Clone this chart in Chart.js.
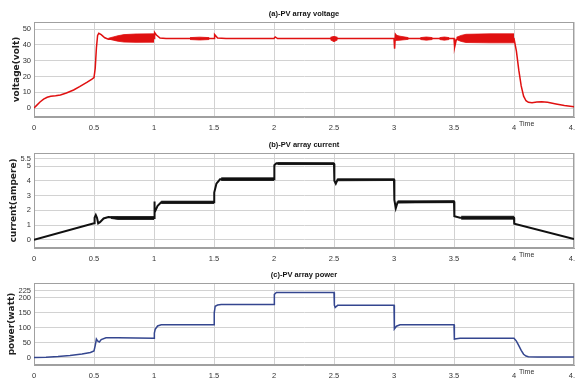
<!DOCTYPE html>
<html>
<head>
<meta charset="utf-8">
<script src="https://cdn.jsdelivr.net/npm/chart.js@4"></script>
<style>
  body { margin: 0; background: #fff; width: 575px; height: 388px; overflow: hidden; position: relative; }
  canvas { position: absolute; left: 0; }
</style>
</head>
<body>
<canvas id="voltChart" width="575" height="135" style="top:0px"></canvas>
<canvas id="currChart" width="575" height="135" style="top:131px"></canvas>
<canvas id="powChart" width="575" height="122" style="top:261px"></canvas>
<script>
// axis ticks
const timeTicks = [0, 0.5, 1, 1.5, 2, 2.5, 3, 3.5, 4, 4.5];
const voltTicks = [0, 10, 20, 30, 40, 50];
const currTicks = [0, 1, 2, 3, 4, 5, 5.5];
const powTicks = [0, 50, 100, 150, 200, 225];

// (a) PV array voltage
const voltT = [0, 0.02, 0.05, 0.08, 0.11, 0.14, 0.18, 0.22, 0.27, 0.33, 0.38, 0.44, 0.48, 0.5, 0.51, 0.52, 0.53, 0.54, 0.56, 0.59, 0.62, 0.65,
  1.0, 1.005, 1.02, 1.05, 1.1, 1.5, 1.505, 1.53, 1.6, 2.0, 2.01, 2.03, 2.5, 3.0, 3.005, 3.012, 3.03, 3.1, 3.5, 3.505, 3.52, 3.55,
  4.0, 4.02, 4.04, 4.06, 4.08, 4.1, 4.12, 4.15, 4.19, 4.23, 4.28, 4.35, 4.42, 4.5];
const voltV = [0, 1.5, 3.8, 5.6, 6.8, 7.4, 7.8, 8.3, 9.5, 11.4, 13.5, 16.2, 18.2, 19.3, 25, 38, 46, 47.3, 46.5, 44.5, 43.6, 43.9,
  44, 47.8, 46.3, 44.3, 44, 44, 46.6, 44.3, 44, 44, 45, 44, 44, 44, 37.5, 46.7, 44.8, 44, 44, 38.5, 43.5, 44,
  44, 36, 24, 14, 7.5, 4.6, 3.6, 3.4, 3.8, 4, 3.6, 2.6, 1.6, 0.8];
const voltBandT = [0.62, 0.66, 0.7, 0.75, 0.85, 1.0, 1.1,
  1.3, 1.38, 1.46, 1.48,
  2.47, 2.5, 2.53, 2.6,
  3.01, 3.05, 3.12, 3.15,
  3.22, 3.27, 3.32, 3.35,
  3.38, 3.42, 3.46, 3.48,
  3.52, 3.56, 3.6, 3.8, 4.0];
const voltBandLo = [43.7, 43, 42.3, 41.8, 41.6, 41.7, null,
  43.4, 43.1, 43.4, null,
  43.2, 42, 43.2, null,
  42.8, 43, 43.5, null,
  43.4, 43, 43.4, null,
  43.4, 43, 43.4, null,
  43.4, 42.2, 41.5, 41.3, 41.3];
const voltBandHi = [44.2, 45, 45.8, 46.5, 46.9, 47, null,
  44.6, 44.9, 44.6, null,
  44.8, 45.4, 44.8, null,
  46.3, 45.5, 44.6, null,
  44.6, 45, 44.6, null,
  44.6, 45, 44.6, null,
  44.8, 46, 46.7, 47, 47];

// (b) PV array current
const currT = [0, 0.5, 0.505, 0.515, 0.525, 0.535, 0.55, 0.58, 0.62, 0.7, 1.0, 1.002, 1.004, 1.008, 1.03, 1.06,
  1.5, 1.502, 1.52, 1.55, 2.0, 2.003, 2.02, 2.5, 2.503, 2.515, 2.53, 3.0, 3.003, 3.015, 3.03, 3.5, 3.503, 3.55,
  4.0, 4.002, 4.5];
const currV = [0, 1.12, 1.5, 1.68, 1.5, 1.12, 1.2, 1.45, 1.55, 1.5, 1.48, 1.85, 2.6, 1.85, 2.3, 2.55,
  2.55, 3.2, 3.8, 4.1, 4.1, 5.05, 5.18, 5.15, 4.0, 3.8, 4.08, 4.08, 2.7, 2.15, 2.55, 2.6, 1.6, 1.5,
  1.5, 1.1, 0.05];
const currBandT = [0.64, 0.7, 1.0, 1.02,
  1.06, 1.3, 1.5, 1.52,
  1.56, 1.8, 2.0, 2.01,
  2.03, 2.5, 2.51,
  2.53, 3.0, 3.01,
  3.03, 3.5, 3.52,
  3.56, 3.8, 4.0];
const currBandLo = [1.45, 1.38, 1.38, null,
  2.46, 2.46, 2.46, null,
  4.02, 4.02, 4.02, null,
  5.1, 5.1, null,
  4.0, 4.02, null,
  2.5, 2.52, null,
  1.4, 1.4, 1.4];
const currBandHi = [1.56, 1.58, 1.58, null,
  2.62, 2.62, 2.62, null,
  4.2, 4.2, 4.2, null,
  5.22, 5.22, null,
  4.12, 4.12, null,
  2.64, 2.64, null,
  1.6, 1.6, 1.6];

// (c) PV array power
const powT = [0, 0.1, 0.2, 0.3, 0.4, 0.47, 0.5, 0.51, 0.52, 0.53, 0.545, 0.56, 0.6, 0.7, 1.0, 1.003, 1.01, 1.03, 1.06,
  1.5, 1.502, 1.51, 1.53, 1.56, 2.0, 2.003, 2.02, 2.5, 2.503, 2.51, 2.53, 3.0, 3.003, 3.02, 3.05, 3.5, 3.503, 3.52, 3.55,
  4.0, 4.02, 4.04, 4.06, 4.08, 4.1, 4.12, 4.2, 4.5];
const powV = [0, 1, 3.5, 7, 12, 17, 22, 40, 62, 56, 52, 60, 66, 66, 65, 82, 95, 106, 110,
  110, 150, 172, 176, 178, 178, 212, 218, 218, 176, 168, 175, 175, 96, 105, 110, 110, 62, 63, 65,
  65, 55, 40, 24, 11, 5, 3, 2, 1.5];

function series(ts, vs) {
  return ts.map((t, i) => ({ x: t, y: vs[i] }));
}

const tickFont = { family: 'Liberation Sans', size: 7.5 };

const framePlugin = {
  id: 'frame',
  beforeDatasetsDraw(chart) {
    const { ctx, chartArea: a } = chart;
    ctx.save();
    ctx.strokeStyle = '#a0a0a0';
    ctx.lineWidth = 1;
    ctx.strokeRect(a.left + 0.5, a.top + 0.5, a.width - 1, a.height - 1);
    ctx.restore();
  },
  afterDraw(chart) {
    const { ctx, chartArea: a, scales } = chart;
    ctx.save();
    ctx.fillStyle = '#333';
    ctx.font = '7px "Liberation Sans"';
    ctx.textBaseline = 'middle';
    ctx.fillText('Time', scales.x.getPixelForValue(4) + 5, a.bottom + 7);
    ctx.restore();
  }
};

function panel(id, o) {
  const datasets = [];
  if (o.bandT) {
    datasets.push({ data: series(o.bandT, o.bandHi), borderColor: o.color, borderWidth: 0.8, fill: false });
    datasets.push({ data: series(o.bandT, o.bandLo), borderColor: o.color, borderWidth: 0.8, fill: '-1', backgroundColor: o.color });
  }
  datasets.push({ data: series(o.lineT, o.lineV), borderColor: o.color, borderWidth: o.lineWidth, fill: false });

  new Chart(document.getElementById(id), {
    type: 'line',
    data: { datasets: datasets },
    plugins: [framePlugin],
    options: {
      responsive: false,
      animation: false,
      layout: { padding: { left: 0, right: 1, top: 0, bottom: 0 } },
      elements: { point: { radius: 0 } },
      plugins: {
        legend: { display: false },
        tooltip: { enabled: false },
        title: {
          display: true,
          text: o.title,
          fullSize: false,
          color: '#111',
          font: { family: 'Liberation Sans', size: 7.5, weight: 'bold' },
          padding: { top: 9.7, bottom: 3.3 }
        }
      },
      scales: {
        x: {
          type: 'linear',
          min: 0,
          max: 4.5,
          afterBuildTicks: s => { s.ticks = timeTicks.map(v => ({ value: v })); },
          afterFit: s => { s.height = 18; s.paddingLeft = 0; s.paddingRight = 0; },
          ticks: { autoSkip: false, maxRotation: 0, padding: 6, font: tickFont, color: '#333', callback: v => String(v) },
          grid: { color: '#d2d2d2', drawTicks: false },
          border: { color: '#a0a0a0' }
        },
        y: {
          min: o.yMin,
          max: o.yMax,
          afterBuildTicks: s => { s.ticks = o.yTicks.map(v => ({ value: v })); },
          afterFit: s => { s.width = 34; },
          ticks: { autoSkip: false, padding: 3, font: tickFont, color: '#333', callback: v => String(v) },
          grid: { color: '#d2d2d2', drawTicks: false },
          border: { color: '#a0a0a0' },
          title: {
            display: true,
            text: o.yTitle,
            color: '#222',
            font: { family: 'DejaVu Sans', size: 9, weight: 'bold' },
            padding: { top: o.yTitlePad, bottom: 0 }
          }
        }
      }
    }
  });
}

panel('voltChart', {
  title: '(a)-PV array voltage', yTitle: 'voltage(volt)', yTitlePad: 11,
  yMin: -5.7, yMax: 54.5, yTicks: voltTicks, color: '#e01010', lineWidth: 1.5,
  lineT: voltT, lineV: voltV, bandT: voltBandT, bandLo: voltBandLo, bandHi: voltBandHi
});

panel('currChart', {
  title: '(b)-PV array current', yTitle: 'current(ampere)', yTitlePad: 8,
  yMin: -0.55, yMax: 5.88, yTicks: currTicks, color: '#111111', lineWidth: 2,
  lineT: currT, lineV: currV, bandT: currBandT, bandLo: currBandLo, bandHi: currBandHi
});

panel('powChart', {
  title: '(c)-PV array power', yTitle: 'power(watt)', yTitlePad: 6,
  yMin: -25, yMax: 250, yTicks: powTicks, color: '#34468f', lineWidth: 1.5,
  lineT: powT, lineV: powV
});
</script>
</body>
</html>
